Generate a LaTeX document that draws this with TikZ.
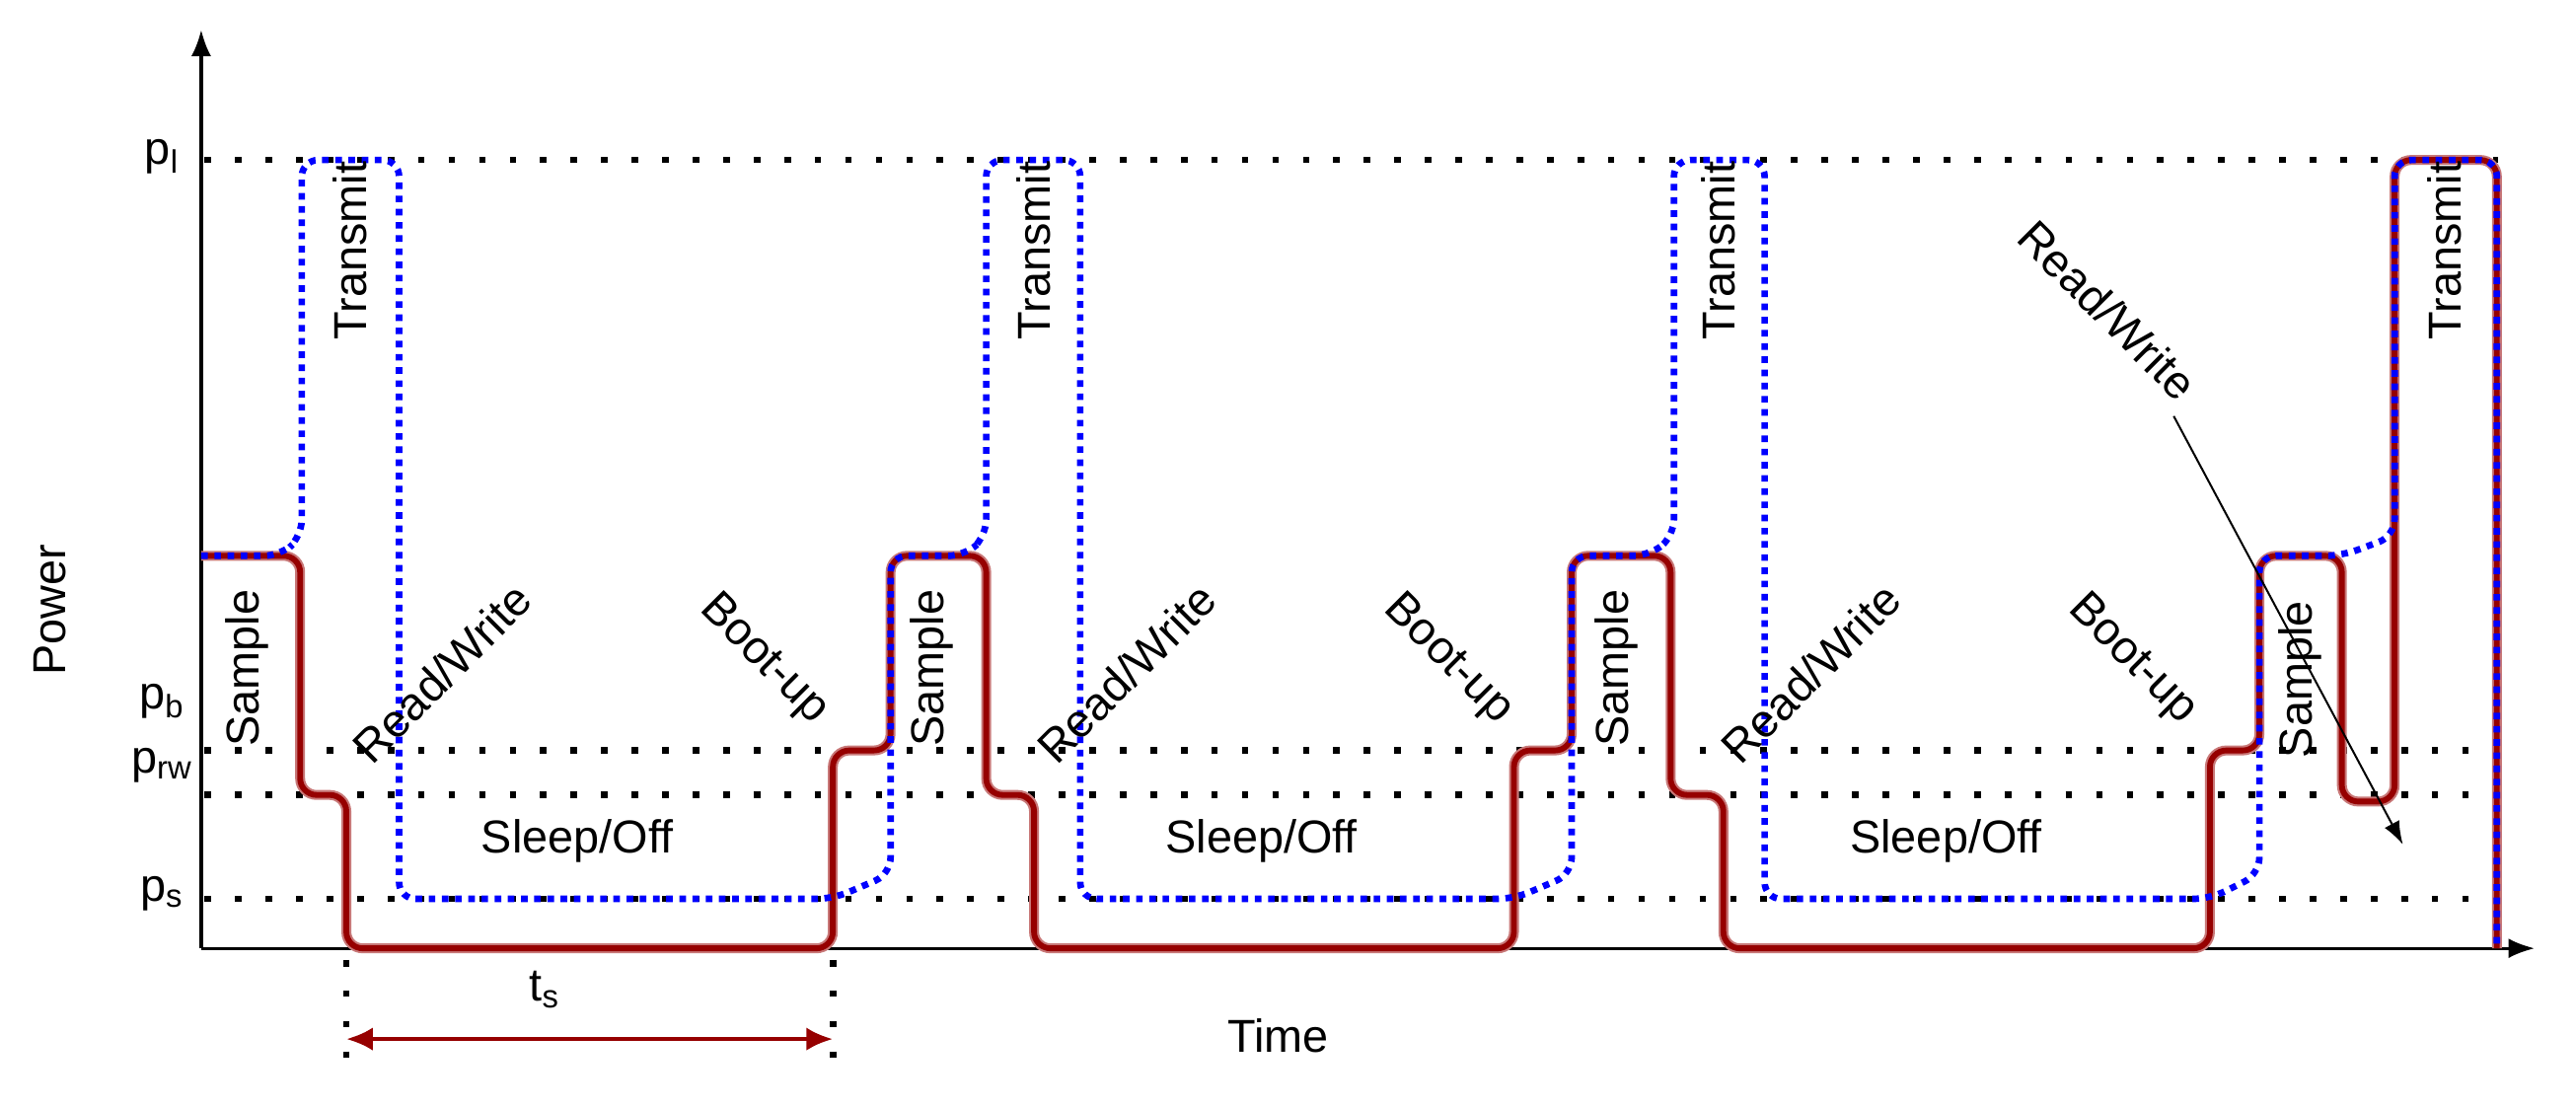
\documentclass[tikz,border=0pt]{standalone}
\usepackage{fontspec}
\setmainfont{Liberation Sans}
\usetikzlibrary{arrows.meta}
\begin{document}
\begin{tikzpicture}[x=1pt,y=-1pt,
  lbl/.style={font=\fontsize{28}{32}\selectfont,inner sep=1pt},
  lvl/.style={line width=4pt,dash pattern=on 4pt off 14.5pt,black},
  red/.style={line width=3.5pt,draw={rgb,255:red,150;green,0;blue,0},rounded corners=10pt},
  halo/.style={line width=6pt,draw={rgb,255:red,200;green,120;blue,120},rounded corners=10pt},
  blue/.style={line width=4pt,draw=blue,dash pattern=on 4pt off 4pt,rounded corners=10pt},
  ax/.style={line width=2pt,-{Latex[length=16pt,width=12pt]}}]
\useasboundingbox (0,0) rectangle (1562,672);
% level lines
\foreach \yy in {97,455,482,545} \draw[lvl] (124,\yy) -- (1515,\yy);
\foreach \xx in {210,505} \draw[lvl] (\xx,582) -- (\xx,645);
% axes
\coordinate (o) at (122,575);
\coordinate (yt) at (122,18);
\coordinate (xt) at (1537,575);
\draw[ax] (o) -- (yt);
\draw[ax] (o) -- (xt);
% red path
\def\redpath{(122,337) -- (182,337) -- (182,482) -- (210,482) -- (210,575) -- (505,575) -- (505,455) -- (540,455) -- (540,337) -- (598,337) -- (598,482) -- (627,482) -- (627,575) -- (918,575) -- (918,455) -- (953,455) -- (953,337) -- (1013,337) -- (1013,482) -- (1045,482) -- (1045,575) -- (1340,575) -- (1340,455) -- (1370,455) -- (1370,337) -- (1420,337) -- (1420,486) -- (1452,486) -- (1452,97) -- (1514,97) -- (1514,575)}
\draw[halo] \redpath;
\draw[red] \redpath;
% blue path
\draw[blue] (122,337) -- (170,337) -- (183,325) -- (183,97) -- (242,97) -- (242,545) -- (505,545) -- (540,530) -- (540,337) -- (585,337) -- (598,325) -- (598,97) -- (655,97) -- (655,545) -- (918,545) -- (953,530) -- (953,337) -- (1000,337) -- (1015,325) -- (1015,97) -- (1070,97) -- (1070,545) -- (1340,545) -- (1370,530) -- (1370,337) -- (1420,337) -- (1452,325) -- (1452,97) -- (1514,97) -- (1514,575);
% level labels
\node[lbl] (pl) at (98,95) {p\textsubscript{l}};
\node[lbl] (pb) at (98,425) {p\textsubscript{b}};
\node[lbl] (prw) at (98,464) {p\textsubscript{rw}};
\node[lbl] (ps) at (98,542) {p\textsubscript{s}};
\node[lbl,rotate=90] (pw) at (30,370) {Power};
\node[lbl] (time) at (775,628) {Time};
\node[lbl] (ts) at (330,600) {t\textsubscript{s}};
\coordinate (ta) at (210,630);
\coordinate (tb) at (505,630);
\draw[line width=2.5pt,draw={rgb,255:red,150;green,0;blue,0},{Latex[length=16pt,width=14pt]}-{Latex[length=16pt,width=14pt]}] (ta) -- (tb);
% cycle labels
\foreach \dx/\n in {0/a,415/b,830/c}{
  \node[lbl,rotate=90] (s\n) at (150+\dx,405) {Sample};
  \node[lbl,rotate=90] (t\n) at (212+\dx,152) {Transmit};
  \node[lbl,rotate=45] (r\n) at (268+\dx,408) {Read/Write};
  \node[lbl,rotate=-45] (b\n) at (463+\dx,400) {Boot-up};
  \node[lbl] (z\n) at (350+\dx,510) {Sleep/Off};
}
\node[lbl,rotate=90] (sd) at (1395,412) {Sample};
\node[lbl,rotate=90] (td) at (1482,152) {Transmit};
\node[lbl,rotate=-45] (rd) at (1278,188) {Read/Write};
\coordinate (re) at (1457,512);
\draw[line width=1.2pt,-{Latex[length=14pt,width=10pt]}] (rd.south east) ++(-2,6) -- (re);
\end{tikzpicture}
\end{document}
